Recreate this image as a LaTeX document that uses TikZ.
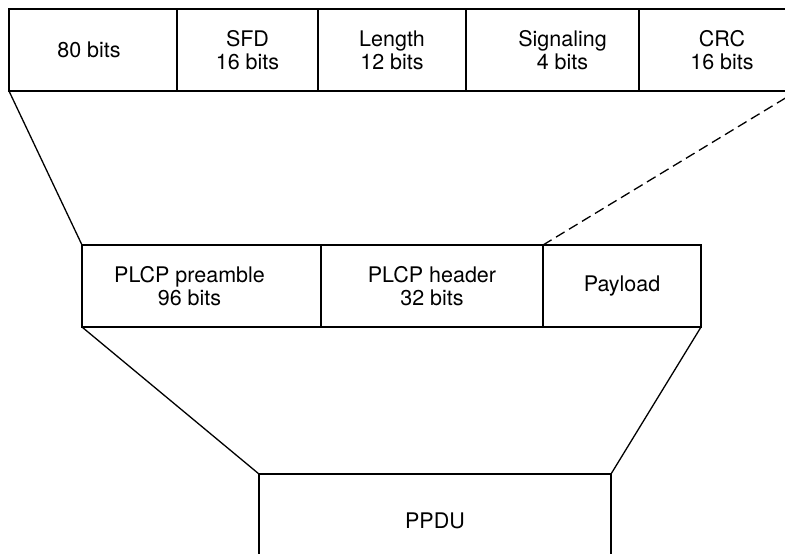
\documentclass[tikz,border=0pt]{standalone}
\usepackage{fontspec}
\setmainfont{TeX Gyre Heros}
\usepackage{tikz}
\usetikzlibrary{calc,positioning}

\begin{document}
\begin{tikzpicture}[x=0.5pt, y=-0.5pt, line width=0.65pt,
  fieldtext/.style={align=center, inner sep=0pt, font=\fontsize{10.75}{11.6}\selectfont},
  field/.style={draw, rectangle, outer sep=0pt, inner sep=0pt, fieldtext,
    minimum height=41pt},
  zoomline/.style={line width=0.65pt},
  zoomdash/.style={line width=0.65pt, dash pattern=on 5pt off 2.6pt}]

\useasboundingbox (0,0) rectangle (785,553);
\clip (0,0) rectangle (785,553);

% top row: PLCP header fields
\node[field, minimum width=84pt,
  label={[fieldtext, xshift=-2pt]center:80 bits}] (pre80) at (93,50) {};
\node[field, minimum width=70.5pt] (sfd) at (247.5,50) {SFD\\16 bits};
\node[field, minimum width=74pt]   (len) at (392,50)   {Length\\12 bits};
\node[field, minimum width=86.5pt,
  label={[fieldtext, xshift=5pt]center:{Signaling\\4 bits}}] (sig) at (552.5,50) {};
\node[field, minimum width=79pt,
  label={[fieldtext, xshift=2pt]center:{CRC\\16 bits}}] (crc) at (718,50) {};

% middle row: PLCP frame
\node[field, minimum width=119.5pt,
  label={[fieldtext, xshift=-6pt]center:{PLCP preamble\\96 bits}}] (preamble) at (201.5,286) {};
\node[field, minimum width=111pt] (header)  at (432,286) {PLCP header\\32 bits};
\node[field, minimum width=79pt]  (payload) at (622,286) {Payload};

% bottom: PPDU
\node[field, minimum width=176pt, minimum height=47pt] (ppdu) at (435,521) {PPDU};

\draw[zoomline] (pre80.south west) -- (preamble.north west);
\draw[zoomdash] (payload.north west) -- (crc.south east);
\draw[zoomline] (preamble.south west) -- (ppdu.north west);
\draw[zoomline] (payload.south east) -- (ppdu.north east);

\end{tikzpicture}
\end{document}
